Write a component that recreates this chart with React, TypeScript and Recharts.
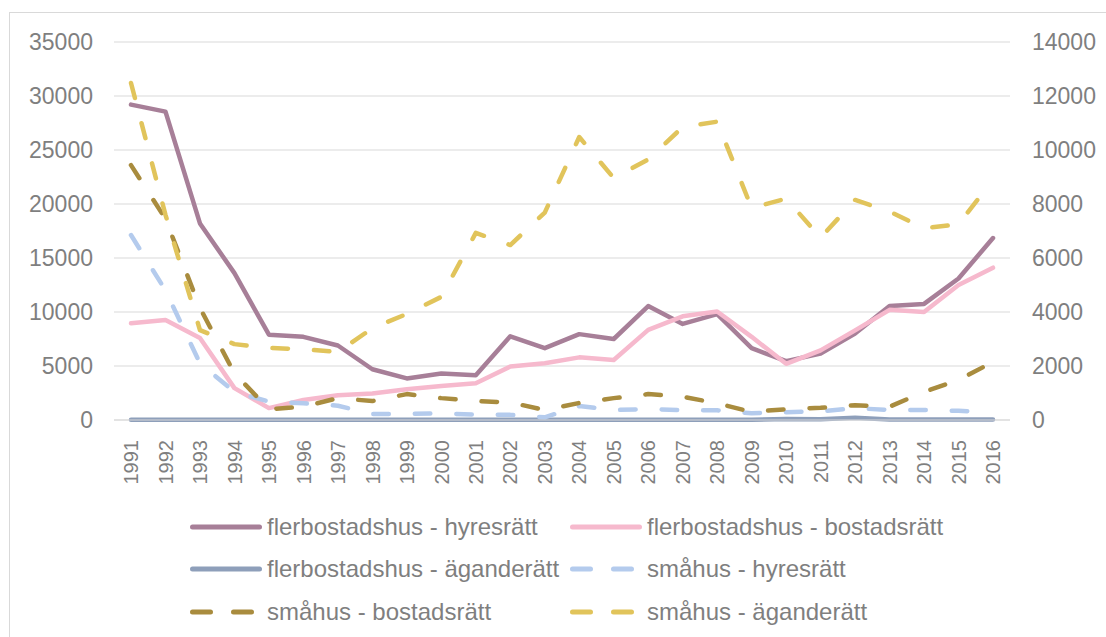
import React from "react"
import { LineChart, Line, XAxis, YAxis, CartesianGrid } from "recharts"

const years = [
  "1991", "1992", "1993", "1994", "1995", "1996", "1997", "1998", "1999", "2000",
  "2001", "2002", "2003", "2004", "2005", "2006", "2007", "2008", "2009", "2010",
  "2011", "2012", "2013", "2014", "2015", "2016",
]

// left axis (flerbostadshus)
const flerHyresratt = [
  29200, 28550, 18200, 13600, 7900, 7700, 6900, 4700, 3850, 4300,
  4150, 7750, 6650, 7950, 7500, 10550, 8900, 9800, 6650, 5450,
  6150, 8000, 10550, 10750, 13100, 16850,
]
const flerBostadsratt = [
  8950, 9250, 7600, 2950, 1100, 1850, 2300, 2450, 2850, 3150,
  3400, 4950, 5250, 5800, 5550, 8350, 9600, 10050, 7700, 5200,
  6450, 8300, 10200, 10000, 12500, 14100,
]
const flerAganderatt = [
  30, 30, 30, 30, 30, 30, 30, 30, 30, 30,
  30, 30, 20, 30, 30, 30, 30, 30, 30, 100,
  60, 200, 50, 40, 50, 40,
]

// right axis (småhus)
const smaHyresratt = [
  6850, 4800, 2100, 1040, 680, 620, 530, 220, 230, 240,
  200, 190, 100, 520, 370, 400, 370, 360, 250, 290,
  320, 440, 370, 370, 340, 290,
]
const smaBostadsratt = [
  9440, 7450, 4150, 1730, 400, 490, 810, 700, 960, 810,
  700, 650, 370, 630, 810, 960, 860, 620, 300, 400,
  450, 550, 490, 1040, 1480, 2150,
]
const smaAganderatt = [
  12480, 7600, 3330, 2810, 2670, 2620, 2520, 3400, 3930, 4560,
  6930, 6480, 7680, 10480, 8960, 9650, 10850, 11050, 7850, 8200,
  6750, 8150, 7720, 7100, 7250, 8900,
]

const leftTicks = [0, 5000, 10000, 15000, 20000, 25000, 30000, 35000]
const rightTicks = [0, 2000, 4000, 6000, 8000, 10000, 12000, 14000]

const series = [
  { key: "fh", name: "flerbostadshus - hyresrätt", values: flerHyresratt, color: "#a77f98", axis: "left", dashed: false },
  { key: "fb", name: "flerbostadshus - bostadsrätt", values: flerBostadsratt, color: "#f6b9cd", axis: "left", dashed: false },
  { key: "fa", name: "flerbostadshus - äganderätt", values: flerAganderatt, color: "#8e9fba", axis: "left", dashed: false },
  { key: "sh", name: "småhus - hyresrätt", values: smaHyresratt, color: "#b4cbed", axis: "right", dashed: true },
  { key: "sb", name: "småhus - bostadsrätt", values: smaBostadsratt, color: "#a98c3e", axis: "right", dashed: true },
  { key: "sa", name: "småhus - äganderätt", values: smaAganderatt, color: "#e1c45b", axis: "right", dashed: true },
]

const data = years.map((year, i) => {
  const row: Record<string, string | number> = { year }
  series.forEach((s) => {
    row[s.key] = s.values[i]
  })
  return row
})

const textColor = "#7f7f7f"
const font = "'Liberation Sans', Arial, sans-serif"

function YearTick(props: any) {
  const { x, y, payload } = props
  return (
    <text
      x={x}
      y={y + 20}
      dy="0.36em"
      transform={`rotate(-90, ${x}, ${y + 20})`}
      textAnchor="end"
      fill={textColor}
      fontSize={20}
      fontFamily={font}
    >
      {payload.value}
    </text>
  )
}

function LegendBox() {
  const cols = [190, 570]
  const rows = [527, 569, 612]
  return (
    <>
      {series.map((s, i) => {
        const left = cols[i % 2]
        const top = rows[Math.floor(i / 2)]
        return (
          <div
            key={s.key}
            style={{ position: "absolute", left, top: top - 15, height: 30, display: "flex", alignItems: "center" }}
          >
            <svg width={72} height={30} style={{ display: "block" }}>
              <line
                x1={2.5}
                y1={15}
                x2={s.dashed ? 67 : 69.5}
                y2={15}
                stroke={s.color}
                strokeWidth={5}
                strokeLinecap="round"
                strokeDasharray={s.dashed ? "18 23" : undefined}
              />
            </svg>
            <span
              style={{
                marginLeft: 5,
                fontFamily: font,
                fontSize: 24,
                color: textColor,
                whiteSpace: "nowrap",
                lineHeight: "30px",
              }}
            >
              {s.name}
            </span>
          </div>
        )
      })}
    </>
  )
}

export default function App() {
  return (
    <div
      style={{
        position: "absolute",
        left: 0,
        top: 0,
        width: 1106,
        height: 637,
        overflow: "hidden",
        background: "#fff",
      }}
    >
      <div
        style={{
          position: "absolute",
          left: 9,
          top: 12,
          width: 1200,
          height: 700,
          border: "1px solid #d9d9d9",
        }}
      />
      <div style={{ position: "absolute", left: 0, top: 0 }}>
        <LineChart width={1106} height={637} data={data} margin={{ top: 42, right: 0, bottom: 0, left: 0 }}>
          <CartesianGrid yAxisId="left" vertical={false} stroke="#d9d9d9" strokeWidth={1.2} />
          <XAxis
            dataKey="year"
            padding={{ left: 17, right: 17 }}
            tick={<YearTick />}
            tickLine={false}
            axisLine={{ stroke: "#d9d9d9", strokeWidth: 1.2 }}
            tickSize={0}
            tickMargin={0}
            interval={0}
            height={217}
          />
          <YAxis
            yAxisId="left"
            orientation="left"
            width={114}
            domain={[0, 35000]}
            ticks={leftTicks}
            axisLine={false}
            tickLine={false}
            tickSize={0}
            tickMargin={21}
            tick={{ fill: textColor, fontSize: 23, fontFamily: font }}
          />
          <YAxis
            yAxisId="right"
            orientation="right"
            width={96}
            domain={[0, 14000]}
            ticks={rightTicks}
            axisLine={false}
            tickLine={false}
            tickSize={0}
            tickMargin={22}
            tick={{ fill: textColor, fontSize: 23, fontFamily: font, textAnchor: "start" }}
          />
          {series.map((s) => (
            <Line
              key={s.key}
              yAxisId={s.axis}
              dataKey={s.key}
              name={s.name}
              type="linear"
              stroke={s.color}
              strokeWidth={4.5}
              strokeLinecap="round"
              strokeLinejoin="round"
              strokeDasharray={s.dashed ? "15.5 26" : undefined}
              dot={false}
              activeDot={false}
              isAnimationActive={false}
            />
          ))}
        </LineChart>
      </div>
      <LegendBox />
    </div>
  )
}
